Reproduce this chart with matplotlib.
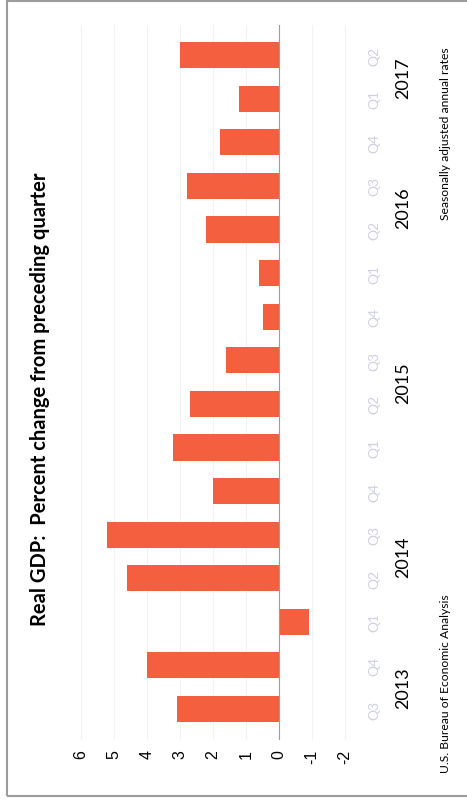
import matplotlib
matplotlib.use('Agg')
import matplotlib.pyplot as plt
from matplotlib.patches import Rectangle

# quarters from 2013 Q3 through 2017 Q2
quarters = ['Q3', 'Q4', 'Q1', 'Q2', 'Q3', 'Q4', 'Q1', 'Q2', 'Q3', 'Q4',
            'Q1', 'Q2', 'Q3', 'Q4', 'Q1', 'Q2']
years = ['2013', '2014', '2015', '2016', '2017']
year_quarters = [2, 4, 4, 4, 2]
gdp = [3.1, 4.0, -0.9, 4.6, 5.2, 2.0, 3.2, 2.7, 1.6, 0.5, 0.6, 2.2, 2.8, 1.8, 1.2, 3.0]
value_ticks = [6, 5, 4, 3, 2, 1, 0, -1, -2]

bar_color = '#f4603f'
quarter_color = '#cfd0e2'
font = ['Lato', 'DejaVu Sans']

fig = plt.figure(figsize=(4.67, 8.03), dpi=100)
ax = fig.add_axes([0.1593, 0.0778, 0.5936, 0.8904])

pos = list(range(len(gdp)))
ax.barh(pos, gdp, height=0.6, color=bar_color, zorder=3)
ax.axvline(0, color='#9a9aae', lw=0.8, zorder=4)

ax.set_xlim(6.2, -2.2)
ax.set_ylim(-0.7, 15.7)
ax.set_xticks(value_ticks)
ax.set_xticklabels([str(v) for v in value_ticks], rotation=90, fontsize=11.5,
                   family='Liberation Sans')
ax.tick_params(axis='x', length=0, pad=7)
ax.grid(axis='x', color='#f2f2f4', lw=0.8, zorder=0)

ax.yaxis.tick_right()
ax.set_yticks(pos)
ax.set_yticklabels(quarters, rotation=90, fontsize=10, color=quarter_color,
                   family=font, va='center')
ax.tick_params(axis='y', length=0, pad=12)

for s in ax.spines.values():
    s.set_visible(False)

# year labels centred on their quarters
start = 0
for yr, n in zip(years, year_quarters):
    mid = start + (n - 1) / 2
    ax.text(1.185, mid, yr, transform=ax.get_yaxis_transform(), rotation=90,
            ha='center', va='center', fontsize=13, family=font)
    start += n

fig.text(0.086, 0.503, 'Real GDP:  Percent change from preceding quarter',
         rotation=90, ha='center', va='center', fontsize=14.5,
         fontweight='bold', family=font)
fig.text(0.953, 0.0374, 'U.S. Bureau of Economic Analysis', rotation=90,
         ha='center', va='bottom', fontsize=8.7, family=font)
fig.text(0.953, 0.9415, 'Seasonally adjusted annual rates', rotation=90,
         ha='center', va='top', fontsize=8.7, family=font)

# frame around the panel
fig.patches.append(Rectangle((0.016, 0.008), 1.2, 0.99, transform=fig.transFigure,
                             fill=False, edgecolor='#9c9c9c', lw=1.5))

fig.savefig('out.png', dpi=100)
